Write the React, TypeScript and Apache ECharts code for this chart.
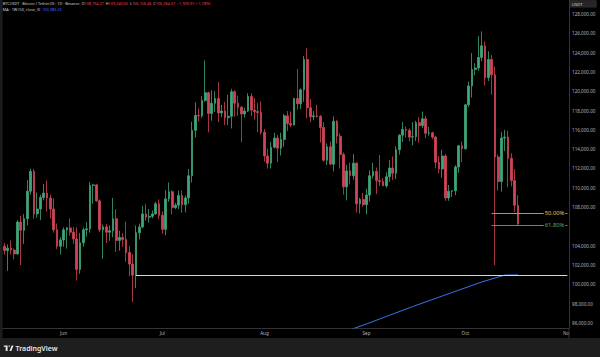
import React, { useEffect, useRef } from 'react';
import * as echarts from 'echarts';

// ---- categories (daily, 2025-05-14 .. 2025-11-01; last 15 are empty right margin) ----
const START = Date.UTC(2025, 4, 14);
const dates: string[] = [];
for (let i = 0; i < 172; i++) {
  dates.push(new Date(START + i * 86400000).toISOString().slice(0, 10));
}
const monthNames = ['Jan', 'Feb', 'Mar', 'Apr', 'May', 'Jun', 'Jul', 'Aug', 'Sep', 'Oct', 'Nov', 'Dec'];

// ---- price-scale tick labels (106,000 is covered by the last-price tag) ----
const yTicks = [
  128000, 126000, 124000, 122000, 120000, 118000, 116000, 114000, 112000,
  110000, 108000, 104000, 102000, 100000, 98000, 96000,
];

// ---- BTCUSDT daily OHLC ----
const opens = [
  103950, 103500, 103750, 103550, 103150, 106450, 105600, 106800, 109650, 111700,
  107300, 107800, 109000, 109450, 108950, 107800, 105650, 103950, 104600, 105650,
  105850, 105400, 104700, 101550, 104300, 105650, 105750, 110250, 110300, 108650,
  105650, 105950, 105400, 105550, 106800, 104550, 104850, 104650, 103300, 102100,
  100950, 105350, 105950, 107300, 106950, 107050, 107300, 108350, 107150, 105700,
  108850, 109600, 107950, 108200, 109200, 108250, 108950, 111250, 115950, 117500,
  117450, 119050, 119850, 117700, 118750, 119250, 117750, 117950, 117250, 117400,
  119950, 118750, 118350, 117650, 117950, 119450, 118050, 117900, 117800, 115750,
  113300, 112550, 114200, 115150, 114100, 115000, 117450, 116650, 116500, 119250,
  118700, 120150, 123300, 118300, 117350, 117450, 117400, 116250, 112850, 114250,
  112450, 116900, 115350, 113450, 110100, 111750, 111250, 112550, 108350, 108800,
  108250, 109250, 111250, 111700, 110750, 110650, 110200, 111150, 112050, 111500,
  113950, 115450, 116050, 115950, 115250, 115300, 116750, 116450, 117150, 115650,
  115700, 115250, 112650, 111950, 113300, 108950, 109650, 109700, 112150, 114350,
  114050, 118600, 120550, 122250, 122400, 123500, 124700, 121400, 123300, 121700,
  113200, 110650, 115150, 115250, 113050, 110750, 108194.27,
];
const highs = [
  104300, 104150, 104550, 103700, 106650, 107100, 107300, 110800, 111980, 111950,
  109500, 109300, 110400, 110750, 109300, 108900, 106300, 104900, 105900, 105950,
  106800, 105950, 105900, 105300, 105900, 106450, 110600, 110400, 110400, 108800,
  106200, 106250, 106100, 108950, 107800, 105550, 105300, 106500, 104000, 103100,
  106100, 106300, 108150, 108300, 107800, 107650, 108550, 108800, 107550, 109750,
  110550, 109750, 108450, 109700, 109750, 109200, 111950, 116850, 118850, 118200,
  119500, 123200, 119950, 120100, 120000, 120950, 118600, 118900, 119650, 120250,
  120100, 119550, 118450, 118300, 119800, 119800, 119300, 118800, 118950, 116100,
  114050, 114750, 115700, 115500, 115700, 117650, 117950, 117900, 119300, 122300,
  120300, 123650, 124450, 119200, 117950, 118600, 117550, 116800, 114600, 114800,
  117400, 117000, 115650, 113650, 112400, 112600, 113500, 112650, 108950, 109450,
  109900, 111800, 112600, 112100, 113400, 111000, 111600, 112900, 113250, 114300,
  115550, 116800, 116350, 116150, 116800, 116950, 117300, 117900, 117450, 116300,
  115800, 115400, 113300, 113950, 113500, 110300, 109750, 112350, 114450, 114800,
  118650, 121000, 123950, 122900, 125700, 126200, 125150, 124150, 123750, 122550,
  113450, 115800, 116000, 115900, 113600, 111950, 109240,
];
const lows = [
  103100, 101400, 103100, 102600, 103100, 102000, 104200, 106100, 109300, 106800,
  106900, 106650, 108700, 107550, 106800, 105350, 103650, 103100, 103900, 103700,
  105050, 104200, 100400, 101100, 103900, 104950, 105350, 108350, 108550, 105400,
  102650, 104300, 104500, 104900, 103350, 103500, 103900, 102350, 100850, 98200,
  99600, 104650, 105800, 106600, 106400, 106850, 107200, 106750, 105250, 105100,
  108550, 107250, 107800, 107800, 107400, 107450, 108350, 110550, 115200, 116900,
  117250, 118900, 115750, 116950, 117850, 116800, 117300, 116500, 116500, 116150,
  117350, 117450, 114700, 117300, 117850, 117450, 117050, 115750, 115500, 112700,
  112000, 112000, 114100, 112650, 113350, 114250, 115900, 116300, 116450, 118100,
  118150, 118900, 117200, 116800, 117000, 117250, 114700, 112700, 112350, 112400,
  111700, 114600, 112000, 109300, 108700, 110350, 110850, 107450, 107350, 108050,
  107250, 108600, 110950, 109350, 110200, 110200, 110000, 110600, 110800, 110900,
  113450, 114750, 115200, 114800, 114400, 114850, 114700, 116200, 115150, 115400,
  115050, 112000, 111500, 111050, 108650, 108650, 109050, 109250, 111550, 112650,
  113950, 118350, 119350, 121650, 122100, 123100, 120600, 121050, 119650, 102000,
  109700, 109600, 113800, 110050, 110150, 107500, 106156.46,
];
const closes = [
  103500, 103750, 103550, 103150, 106450, 105600, 106800, 109650, 111700, 107300,
  107800, 109000, 109450, 108950, 107800, 105650, 103950, 104600, 105650, 105850,
  105400, 104700, 101550, 104300, 105650, 105750, 110250, 110300, 108650, 105650,
  105950, 105400, 105550, 106800, 104550, 104850, 104650, 103300, 102100, 100950,
  105350, 105950, 107300, 106950, 107050, 107300, 108350, 107150, 105700, 108850,
  109600, 107950, 108200, 109200, 108250, 108950, 111250, 115950, 117500, 117450,
  119050, 119850, 117700, 118750, 119250, 117750, 117950, 117250, 117400, 119950,
  118750, 118350, 117650, 117950, 119450, 118050, 117900, 117800, 115750, 113300,
  112550, 114200, 115150, 114100, 115000, 117450, 116650, 116500, 119250, 118700,
  120150, 123300, 118300, 117350, 117450, 117400, 116250, 112850, 114250, 112450,
  116900, 115350, 113450, 110100, 111750, 111250, 112550, 108350, 108800, 108250,
  109250, 111250, 111700, 110750, 110650, 110200, 111150, 112050, 111500, 113950,
  115450, 116050, 115950, 115250, 115300, 116750, 116450, 117150, 115650, 115700,
  115250, 112650, 111950, 113300, 108950, 109650, 109700, 112150, 114350, 114050,
  118600, 120550, 122250, 122400, 123500, 124700, 121400, 123300, 121700, 113200,
  110650, 115150, 115250, 113050, 110750, 108194.27, 106264.37,
];

// ---- MA 1W (50) read at weekly points (index into dates) ----
const maIndex = [103, 110, 117, 124, 131, 138, 145, 152, 156];
const maValues = [95050, 95900, 96800, 97700, 98550, 99400, 100250, 100960, 100983];

// ---- drawn levels ----
const supportLevel = 100960; // horizontal white line
const supportStart = 40; // 2025-06-23
const fibStart = 148; // 2025-10-09
const fibLevels = [107350, 106120];
const fibLabels = ['50.00%', '61.80%'];
const lastClose = 106264.37;

const fmt = (v: number) =>
  v.toLocaleString('en-US', { minimumFractionDigits: 2, maximumFractionDigits: 2 });

const FONT = "'Noto Sans', sans-serif";

echarts.graphic.registerShape(
  'tvlogo',
  echarts.graphic.extendPath(
    'M0 0H14V28H7V7H0Z M16.5 3.5A3.5 3.5 0 1 0 23.5 3.5A3.5 3.5 0 1 0 16.5 3.5Z M21 28L29 0H36L28 28Z',
    {}
  )
);

export default function App() {
  const ref = useRef<HTMLDivElement>(null);
  useEffect(() => {
    document.body.style.margin = '0';
    if (!ref.current) return;
    const chart = echarts.init(ref.current, undefined, { renderer: 'svg' });

    const candleData = closes.map((c, i) => [opens[i], c, lows[i], highs[i]]);
    const maData: (number | null)[] = closes.map(() => null);
    maIndex.forEach((idx, k) => (maData[idx] = maValues[k]));
    const last = dates.length - 1;

    const fibColorsLine = ['#a39a72', '#5c935c'];
    const fibColorsText = ['#e2c65a', '#5fae62'];
    const UP = '#3fa57a';
    const DOWN = '#cf4557';

    const option: any = {
      animation: false,
      backgroundColor: '#000000',
      textStyle: { fontFamily: FONT },
      grid: { left: 2.65, right: 31, top: 0, bottom: 29, containLabel: false },
      xAxis: {
        type: 'category',
        data: dates,
        boundaryGap: true,
        axisLine: { show: true, lineStyle: { color: '#333333', width: 1 } },
        axisTick: { show: false },
        splitLine: { show: false },
        axisLabel: {
          interval: (_i: number, v: string) => v.endsWith('-01'),
          formatter: (v: string) => monthNames[Number(v.slice(5, 7)) - 1],
          color: '#b2b5be',
          fontSize: 4.6,
          margin: 2.6,
          fontFamily: FONT,
        },
      },
      yAxis: {
        type: 'value',
        position: 'right',
        min: 95482,
        max: 129450,
        axisLine: { show: true, lineStyle: { color: '#333333', width: 1 } },
        axisTick: { show: false },
        splitLine: { show: false },
        axisLabel: { show: false },
      },
      series: [
        {
          type: 'line',
          data: maData,
          connectNulls: true,
          showSymbol: false,
          symbol: 'none',
          lineStyle: { color: '#3b74e8', width: 1 },
          z: 1,
        },
        {
          type: 'candlestick',
          data: candleData,
          barWidth: 2.2,
          clip: false,
          z: 2,
          itemStyle: {
            color: UP,
            color0: DOWN,
            borderColor: UP,
            borderColor0: DOWN,
            borderWidth: 0.8,
          },
          markLine: {
            silent: true,
            symbol: ['none', 'none'],
            animation: false,
            data: [
              [
                {
                  coord: [dates[supportStart], supportLevel],
                  lineStyle: { color: '#d6d6d6', width: 1.2, type: 'solid' },
                  label: { show: false },
                },
                { coord: [dates[last], supportLevel] },
              ],
              ...fibLevels.map((lv, k) => [
                {
                  coord: [dates[fibStart], lv],
                  lineStyle: { color: fibColorsLine[k], width: 1, type: 'solid' },
                  label: {
                    show: true,
                    position: 'insideEnd',
                    distance: 2,
                    formatter: fibLabels[k],
                    color: fibColorsText[k],
                    fontSize: 5.8,
                    fontFamily: FONT,
                    backgroundColor: '#000000',
                    padding: [0, 1],
                  },
                },
                { coord: [dates[last], lv] },
              ]),
              {
                yAxis: lastClose,
                lineStyle: { opacity: 0 },
                label: {
                  show: true,
                  position: 'end',
                  distance: 0,
                  formatter: fmt(lastClose),
                  color: '#ffffff',
                  fontSize: 4.6,
                  fontFamily: FONT,
                  backgroundColor: '#8f929c',
                  padding: [1.4, 4, 1.2, 2.5],
                },
              },
            ],
          },
        },
      ],
    };
    chart.setOption(option);

    // price-scale labels placed through the y axis' own scale
    const tickTexts = yTicks.map((v, k) => {
      const y = chart.convertToPixel({ yAxisIndex: 0 }, v) as number;
      return {
        type: 'text',
        id: 'ytick' + k,
        x: 572,
        y,
        z: 100,
        style: {
          text: fmt(v),
          fill: '#b2b5be',
          fontSize: 4.6,
          fontFamily: FONT,
          verticalAlign: 'middle',
          align: 'left',
        },
      };
    });

    const graphic: any[] = [
      ...tickTexts,
      { type: 'rect', id: 'leftStrip', shape: { x: 0, y: 0, width: 2.6, height: 338 }, style: { fill: '#1c1c1c' }, z: 50 },
      { type: 'rect', id: 'footer', shape: { x: 0, y: 338, width: 600, height: 19 }, style: { fill: '#1e1e1e' }, z: 50 },
      { type: 'rect', id: 'cornerMask', shape: { x: 569.5, y: 328.5, width: 30.5, height: 9.5 }, style: { fill: '#000000' }, z: 50 },
      { type: 'line', id: 'cornerLine', shape: { x1: 569, y1: 328, x2: 569, y2: 338 }, style: { stroke: '#333333', lineWidth: 1 }, z: 51 },
      {
        type: 'rect',
        id: 'usdtBox',
        shape: { x: 569.8, y: 0.6, width: 26.5, height: 6.6 },
        style: { fill: '#262626', stroke: '#3a3a3a', lineWidth: 0.5 },
        z: 51,
      },
      {
        type: 'text',
        id: 'usdtText',
        x: 572,
        y: 4,
        z: 52,
        style: { text: 'USDT', fill: '#d1d4dc', fontSize: 4.2, fontFamily: FONT, verticalAlign: 'middle' },
      },
      {
        type: 'text',
        id: 'header1',
        x: 2.8,
        y: 3.8,
        z: 52,
        style: {
          text:
            '{t|BTCUSDT · Bitcoin / TetherUS · 1D · Binance}  {l|O}{v|108,194.27}  {l|H}{v|109,240.00}  {l|L}{v|106,156.46}  {l|C}{v|106,264.37}  {v|−1,929.91 (−1.78%)}',
          verticalAlign: 'middle',
          fontSize: 3.8,
          fontFamily: FONT,
          fill: '#d1d4dc',
          rich: {
            t: { fill: '#d1d4dc', fontSize: 3.8, fontFamily: FONT },
            l: { fill: '#d1d4dc', fontSize: 3.8, fontFamily: FONT },
            v: { fill: '#ef4455', fontSize: 3.8, fontFamily: FONT },
          },
        },
      },
      {
        type: 'text',
        id: 'header2',
        x: 2.8,
        y: 9.8,
        z: 52,
        style: {
          text: '{t|MA · 1W (50, close, 0)}  {b|100,983.23}',
          verticalAlign: 'middle',
          fontSize: 3.8,
          fontFamily: FONT,
          fill: '#d1d4dc',
          rich: {
            t: { fill: '#d1d4dc', fontSize: 3.8, fontFamily: FONT },
            b: { fill: '#3d6df5', fontSize: 3.8, fontFamily: FONT },
          },
        },
      },
      {
        type: 'tvlogo',
        id: 'logo',
        x: 3.8,
        y: 345.4,
        scaleX: 0.27,
        scaleY: 0.2,
        z: 52,
        style: { fill: '#e8e8e8' },
      },
      {
        type: 'text',
        id: 'brand',
        x: 15.5,
        y: 348.2,
        z: 52,
        style: {
          text: 'TradingView',
          fill: '#e8e8e8',
          fontSize: 7,
          fontWeight: 600,
          fontFamily: FONT,
          verticalAlign: 'middle',
        },
      },
    ];
    chart.setOption({ graphic });

    return () => chart.dispose();
  }, []);
  return <div ref={ref} style={{ width: 600, height: 357 }} />;
}
